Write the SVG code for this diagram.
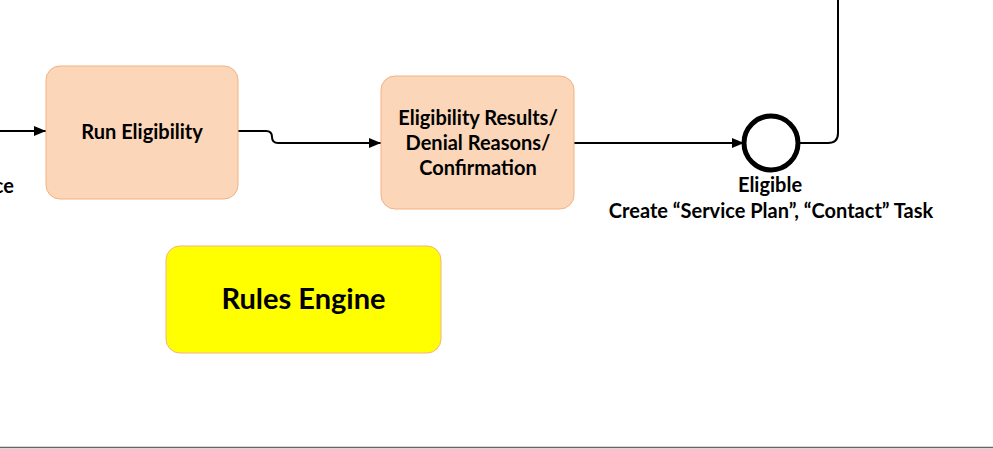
<svg xmlns="http://www.w3.org/2000/svg" width="993" height="449" viewBox="0 0 993 449">
<style>
text{font-family:Lato,"Open Sans","Liberation Sans",sans-serif;font-weight:bold;fill:#000}
.task{fill:#FBD6B8;stroke:#F4B183;stroke-width:1}
.c{fill:none;stroke:#000;stroke-width:2}
.lbl{font-size:20px;text-anchor:middle}
</style>
<defs>
<marker id="ah" markerWidth="12" markerHeight="10" refX="12" refY="5" orient="auto" markerUnits="userSpaceOnUse">
<path d="M0,0 L12,5 L0,10 Z" fill="#000"/>
</marker>
</defs>
<g id="connectors">
<path class="c" d="M0,131 H46" marker-end="url(#ah)"/>
<path class="c" d="M238,131 H266 Q272,131 272,137 Q272,143 278,143 H381" marker-end="url(#ah)"/>
<path class="c" d="M574,143 H744" marker-end="url(#ah)"/>
<path class="c" d="M800,143 H828 Q838,143 838,133 V0"/>
</g>
<g id="run-eligibility">
<rect class="task" x="46" y="66" width="192" height="133" rx="14"/>
<text class="lbl" x="142" y="139">Run Eligibility</text>
</g>
<g id="eligibility-results">
<rect class="task" x="381" y="76" width="193" height="133" rx="14"/>
<text class="lbl" x="478" y="125">Eligibility Results/</text>
<text class="lbl" x="478" y="150">Denial Reasons/</text>
<text class="lbl" x="478" y="175">Confirmation</text>
</g>
<g id="eligible-event">
<circle cx="771" cy="143" r="27" fill="#fff" stroke="#000" stroke-width="5"/>
<text class="lbl" x="770" y="192">Eligible</text>
<text class="lbl" x="771" y="218">Create “Service Plan”, “Contact” Task</text>
</g>
<g id="rules-engine">
<rect x="166" y="246" width="275" height="107" rx="14" fill="#FFFF00" stroke="#F4B183" stroke-width="1"/>
<text x="303.500" y="309" font-size="29" text-anchor="middle">Rules Engine</text>
</g>
<g id="partial-label">
<text class="lbl" x="14" y="193" style="text-anchor:end">ce</text>
</g>
<line x1="0" y1="447.500" x2="993" y2="447.500" stroke="#666" stroke-width="1.500"/>
</svg>
